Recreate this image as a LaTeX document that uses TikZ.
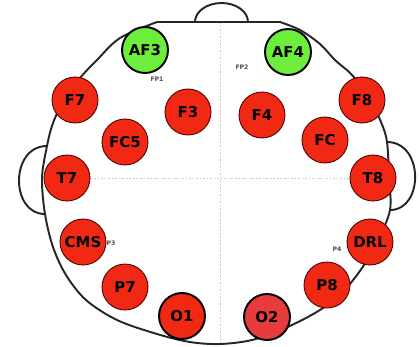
\documentclass[tikz,border=0pt]{standalone}
\usepackage{fontspec}
\setmainfont{DejaVu Sans}
\usepackage{xcolor}
\usepackage{tikz}
\definecolor{elecred}{RGB}{240,40,20}
\definecolor{elecpink}{RGB}{232,60,60}
\definecolor{elecgreen}{RGB}{110,238,60}
\definecolor{guidegray}{RGB}{205,205,205}
\tikzset{
  electrode/.style={circle, minimum size=0.92cm, inner sep=0pt, fill=elecred,
    draw=black!70!red, line width=0.5pt, font=\bfseries\fontsize{8.5}{9}\selectfont},
  thickelec/.style={electrode, draw=black, line width=1.1pt},
  refelec/.style={thickelec, fill=elecgreen},
  tinylabel/.style={font=\fontsize{3.5}{4}\selectfont\bfseries, text=black!70, inner sep=0pt},
  headline/.style={line width=1.1pt, black!85}
}

\begin{document}
\begin{tikzpicture}[x=0.02cm, y=-0.02cm]
  \useasboundingbox (0,0) rectangle (419,346);
  % guide lines
  \draw[guidegray, dash pattern=on 1pt off 1pt, line width=0.4pt] (220,22) -- (220,344);
  \draw[guidegray, dash pattern=on 1pt off 1pt, line width=0.4pt] (45,178) -- (390,178);
  % head, nose and ears
  \draw[headline] plot[smooth, tension=0.55] coordinates {(157,22) (120,38) (97,60) (80,78)
    (64,100) (53,123) (47,146) (42,178) (45,214) (53,247) (66,275) (86,300) (117,320)
    (157,334) (190,342) (220,344) (252,340) (283,329) (315,313) (340,295) (362,268)
    (378,240) (390,210) (389,178) (387,142) (381,122) (370,100) (353,76) (335,60)
    (320,44) (300,30) (280,22)} -- cycle;
  \draw[headline] (195,22) arc[start angle=180, end angle=360, x radius=26.5, y radius=19];
  \draw[headline] (47,146) .. controls (10,146) and (10,214) .. (45,214);
  \draw[headline] (387,142) .. controls (424,142) and (424,210) .. (390,210);
  % electrodes
  \node[refelec] (AF3) at (145,50) {AF3};
  \node[refelec] (AF4) at (288,52) {AF4};
  \foreach \name/\x/\y in {F7/75/100, F3/188/112, FC5/125/142, T7/67/178, CMS/83/242,
      P7/125/287, F4/262/115, FC/325/140, F8/362/100, T8/373/178, DRL/370/242, P8/327/285}
    \node[electrode] (\name) at (\x,\y) {\name};
  \node[thickelec] (O1) at (182,316) {O1};
  \node[thickelec, fill=elecpink] (O2) at (267,317) {O2};
  % 10-20 labels
  \node[tinylabel] (FP1) at (157,79) {FP1};
  \node[tinylabel] (FP2) at (242,67) {FP2};
  \node[tinylabel] (P3) at (111,243) {P3};
  \node[tinylabel] (P4) at (337,249) {P4};
\end{tikzpicture}
\end{document}
